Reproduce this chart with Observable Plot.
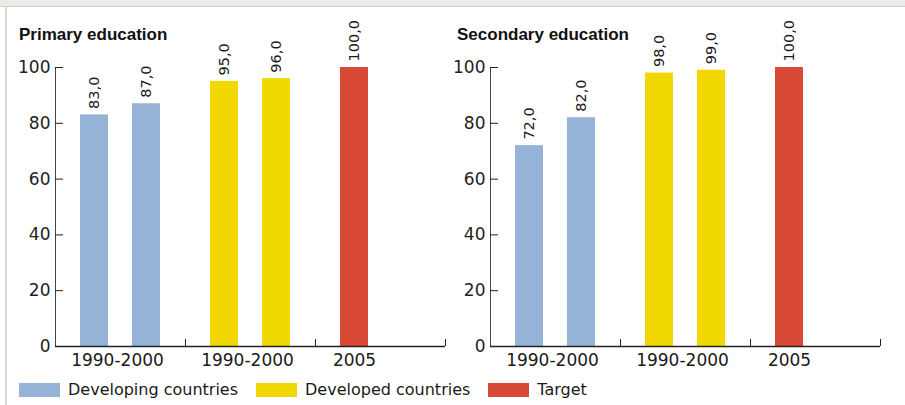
<!DOCTYPE html>
<html>
<head>
<meta charset="utf-8">
<script src="https://cdn.jsdelivr.net/npm/d3@7"></script>
<script src="https://cdn.jsdelivr.net/npm/@observablehq/plot@0.6"></script>
<style>
html, body { margin: 0; padding: 0; background: #fff; }
#root { position: relative; width: 905px; height: 405px; overflow: hidden; font-family: "DejaVu Sans", sans-serif; color: #1a1a1a; background: #fff; }
.topband { position: absolute; left: 0; top: 0; width: 905px; height: 6px; background: #edebe7; border-bottom: 1px solid #d4d0ca; }
.leftline { position: absolute; left: 5px; top: 7px; width: 2px; height: 398px; background: #d9d5cf; }
.title { position: absolute; top: 26px; line-height: 17px; font-family: "Liberation Sans", Arial, sans-serif; font-weight: bold; font-size: 17px; color: #111; white-space: nowrap; }
.panel { position: absolute; top: 0; }
.legend { position: absolute; left: 19px; top: 382px; display: flex; align-items: center; font-size: 16px; line-height: 16px; }
.legend .item { display: flex; align-items: center; margin-right: 18px; white-space: nowrap; }
.legend .sw { width: 41px; height: 14px; margin-right: 8px; }
</style>
</head>
<body>
<div id="root">
  <div class="topband"></div>
  <div class="leftline"></div>
  <div id="p1" class="panel" style="left:0px"></div>
  <div id="p2" class="panel" style="left:435px"></div>
  <div id="t1" class="title" style="left:19px"></div>
  <div id="t2" class="title" style="left:457px"></div>
  <div id="legend" class="legend"></div>
</div>
<script>
// ---- data ----
const panelTitles = ["Primary education", "Secondary education"];
const groups = ["g1", "g2", "g3"];
const groupLabels = ["1990-2000", "1990-2000", "2005"];
const series = ["Developing countries", "Developed countries", "Target"];
const colors = ["#95b3d7", "#f0d800", "#d94a36"];
const barGroup = ["g1", "g1", "g2", "g2", "g3"];
const barSlot = ["a", "b", "a", "b", "a"];
const barSeries = ["Developing countries", "Developing countries", "Developed countries", "Developed countries", "Target"];
const primaryValues = [83, 87, 95, 96, 100];
const secondaryValues = [72, 82, 98, 99, 100];
const yTicks = [0, 20, 40, 60, 80, 100];

function panel(values) {
  const data = values.map((v, i) => ({
    group: barGroup[i], slot: barSlot[i], series: barSeries[i], value: v,
    label: v.toFixed(1).replace(".", ",")
  }));
  const a = data.filter(d => d.slot === "a");
  const b = data.filter(d => d.slot === "b");
  const labels = groups.map((g, i) => ({
    group: g, label: groupLabels[i],
    single: !data.some(d => d.group === g && d.slot === "b")
  }));
  return Plot.plot({
    width: 450, height: 375,
    marginLeft: 55, marginRight: 5, marginTop: 67, marginBottom: 29,
    style: { fontFamily: "DejaVu Sans, sans-serif", fontSize: "17px", color: "#1a1a1a", background: "transparent", overflow: "visible" },
    x: { domain: groups, padding: 0, axis: null, label: null },
    y: { domain: [0, 100], axis: null, label: null },
    color: { domain: series, range: colors },
    marks: [
      Plot.barY(a, { x: "group", y: "value", fill: "series", insetLeft: 25, insetRight: 77 }),
      Plot.barY(b, { x: "group", y: "value", fill: "series", insetLeft: 77, insetRight: 25 }),
      Plot.text(a, { x: "group", y: "value", text: "label", rotate: -90, textAnchor: "start", dx: -26, dy: -6, fontSize: 14.5, fill: "#1a1a1a" }),
      Plot.text(b, { x: "group", y: "value", text: "label", rotate: -90, textAnchor: "start", dx: 26, dy: -6, fontSize: 14.5, fill: "#1a1a1a" }),
      Plot.frame({ anchor: "left", stroke: "#444" }),
      Plot.ruleY([0], { stroke: "#222", strokeWidth: 1.5 }),
      Plot.axisY({ ticks: yTicks, tickSize: -8, tickPadding: 13, fontSize: 17, color: "#222", label: null }),
      Plot.axisX({ tickSize: -7, dx: 65, tickFormat: () => "", color: "#222", label: null }),
      Plot.text(labels.filter(d => !d.single), { x: "group", text: "label", frameAnchor: "bottom", lineAnchor: "top", dy: 7, dx: -3, fontSize: 17, fill: "#1a1a1a" }),
      Plot.text(labels.filter(d => d.single), { x: "group", text: "label", frameAnchor: "bottom", lineAnchor: "top", dy: 7, dx: -26, fontSize: 17, fill: "#1a1a1a" })
    ]
  });
}

document.getElementById("p1").append(panel(primaryValues));
document.getElementById("p2").append(panel(secondaryValues));
document.getElementById("t1").textContent = panelTitles[0];
document.getElementById("t2").textContent = panelTitles[1];

const legend = document.getElementById("legend");
series.forEach((s, i) => {
  const item = document.createElement("div");
  item.className = "item";
  const sw = document.createElement("div");
  sw.className = "sw";
  sw.style.background = colors[i];
  const label = document.createElement("span");
  label.textContent = s;
  item.append(sw, label);
  legend.append(item);
});
</script>
</body>
</html>
